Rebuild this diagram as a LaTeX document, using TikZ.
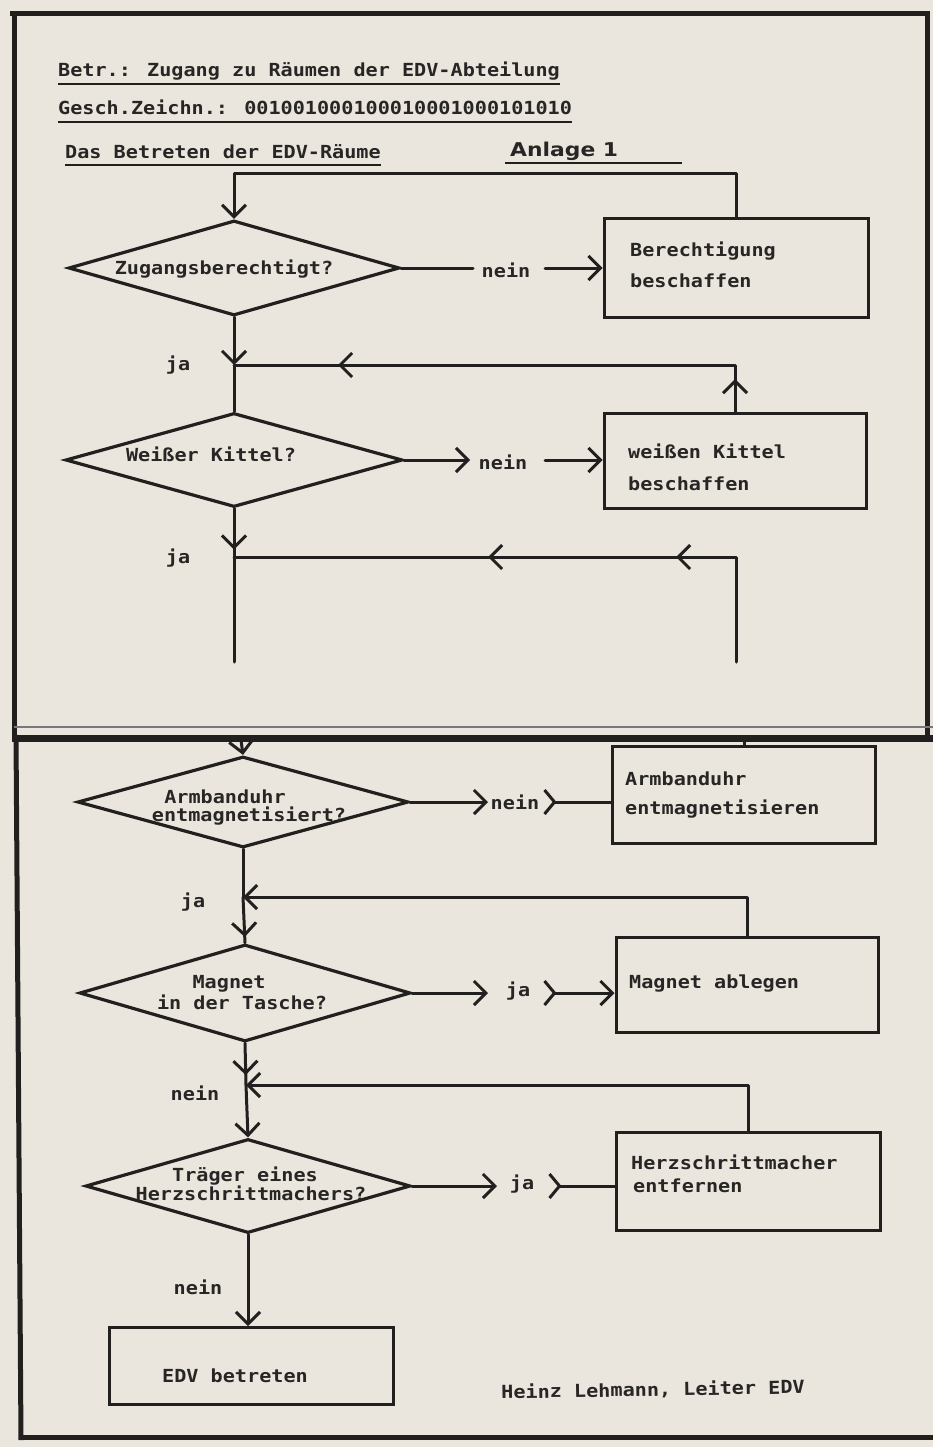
\documentclass[tikz,border=0pt]{standalone}
\usepackage{fontspec}
\newfontfamily\dmfont{DejaVu Sans Mono}[FakeStretch=1.12]
\newfontfamily\handfont{DejaVu Sans}[FakeStretch=1.15]
\usetikzlibrary{arrows.meta,shapes.geometric,decorations.markings}
\definecolor{paper}{RGB}{234,230,222}
\definecolor{ink}{RGB}{34,32,31}
\definecolor{txtc}{RGB}{40,38,37}
\tikzset{revb/.tip={Straight Barb[reversed,length=10pt,width=24pt]}}
\begin{document}
\begin{tikzpicture}[x=1pt,y=-1pt,
  >={Straight Barb[length=12pt,width=24pt]},
  txt/.style={font=\dmfont\bfseries\fontsize{18}{22}\selectfont, text=txtc, inner sep=0pt},
  lbl/.style={txt, anchor=center},
  ln/.style={draw=ink, line width=3pt, line cap=round, line join=round},
  ul/.style={draw=ink, line width=2.4pt},
  frame/.style={draw=ink, line width=5pt},
  dia/.style={diamond, draw=ink, line width=3.2pt, inner sep=0pt, line join=miter},
  box/.style={rectangle, draw=ink, line width=3pt, inner sep=0pt},
  mk/.style={postaction={decorate,decoration={markings,mark=at position #1 with {\arrow{>}}}}},
]
\fill[paper] (0,0) rectangle (933,1447);
\useasboundingbox (0,0) rectangle (933,1447);

% ---------- frames ----------
\draw[frame] (10,14) -- (929.5,14);
\draw[frame] (14,11.5) -- (14,740);
\draw[frame] (927,11.5) -- (927,738);
\draw[draw=ink!60, line width=1.2pt] (14,727) -- (933,727);
\draw[draw=ink, line width=7pt] (12,738) -- (933,738);
\draw[frame] (16,735) -- (21,1440);
\draw[frame] (18.5,1437) -- (933,1437);

% ---------- headings ----------
\node[txt, anchor=base west] (T1) at (58,77) {Betr.: Zugang zu Räumen der EDV-Abteilung};
\draw[ul] ([yshift=-7pt]T1.base west) -- ([yshift=-7pt]T1.base east);
\node[txt, anchor=base west] (T2) at (58,115) {Gesch.Zeichn.: 001001000100010001000101010};
\draw[ul] ([yshift=-7pt]T2.base west) -- ([yshift=-7pt]T2.base east);
\node[txt, anchor=base west] (T3) at (65,159) {Das Betreten der EDV-Räume};
\draw[ul] ([yshift=-6pt]T3.base west) -- ([yshift=-6pt]T3.base east);
\node[anchor=base west, inner sep=0pt, text=txtc, font=\handfont\bfseries\fontsize{19}{22}\selectfont] (ANL) at (510,157) {Anlage 1};
\draw[ul] ([xshift=-5pt,yshift=-6pt]ANL.base west) -- ++(177,0);

% ---------- upper part ----------
\node[dia, minimum width=331pt, minimum height=95pt] (D1) at (234,268) {};
\node[txt, anchor=base] (D1t) at (224,274.5) {Zugangsberechtigt?};
\node[box, minimum width=264pt, minimum height=98pt] (B1) at (736,268) {};
\node[txt, anchor=base west] (B1a) at (630,256) {Berechtigung};
\node[txt, anchor=base west] (B1b) at (630,287) {beschaffen};

\node[dia, minimum width=337pt, minimum height=94pt] (D2) at (234,460) {};
\node[txt, anchor=base] (D2t) at (211,461.5) {Weißer Kittel?};
\node[box, minimum width=262pt, minimum height=95pt] (B2) at (735,461) {};
\node[txt, anchor=base west] (B2a) at (628,458) {weißen Kittel};
\node[txt, anchor=base west] (B2b) at (628,490) {beschaffen};

\coordinate (C1) at (234,174);
\coordinate (J1) at (234,365);
\coordinate (J2) at (234,557);
\coordinate (E1) at (234,662);
\coordinate (E2) at (736,662);
\coordinate (a1) at (473,268);
\coordinate (b1) at (545,268);
\coordinate (a2) at (470,460);
\coordinate (b2) at (545,460);

\node[lbl] (N1) at (506,270) {nein};
\node[lbl] (N2) at (503,462) {nein};
\node[lbl] (Y1) at (178,365) {ja};
\node[lbl] (Y2) at (178,558) {ja};

\draw[ln,->] (B1.north) |- (C1) -- (D1.north);
\draw[ln] (D1.east) -- (a1);
\draw[ln,->] (b1) -- (B1.west |- b1);
\draw[ln,->] (D1.south) -- (J1);
\draw[ln] (J1) -- (D2.north);
\draw[ln, mk=33pt, mk=444pt] (B2.north) |- (J1);
\draw[ln,->] (D2.east) -- (a2);
\draw[ln,->] (b2) -- (B2.west |- b2);
\draw[ln, mk=41pt] (D2.south) -- (E1);
\draw[ln, mk=165pt, mk=353pt] (E2) |- (J2);

% ---------- lower part ----------
\coordinate (S1) at (241,740);
\coordinate (S2) at (744,740);
\node[dia, minimum width=331pt, minimum height=91pt] (D3) at (243,802) {};
\node[txt, anchor=base] (D3a) at (225,803.5) {Armbanduhr};
\node[txt, anchor=base] (D3b) at (249,821) {entmagnetisiert?};
\node[box, minimum width=263pt, minimum height=97pt] (B3) at (744,795) {};
\node[txt, anchor=base west] (B3a) at (625,785.5) {Armbanduhr};
\node[txt, anchor=base west] (B3b) at (625,814) {entmagnetisieren};

\node[dia, minimum width=331pt, minimum height=97pt] (D4) at (245,993) {};
\node[txt, anchor=base] (D4a) at (229,988.5) {Magnet};
\node[txt, anchor=base] (D4b) at (242,1009.5) {in der Tasche?};
\node[box, minimum width=262pt, minimum height=95pt] (B4) at (747,985) {};
\node[txt, anchor=base west] (B4a) at (629,988.5) {Magnet ablegen};

\node[dia, minimum width=325pt, minimum height=94pt] (D5) at (248,1186) {};
\node[txt, anchor=base] (D5a) at (245,1181) {Träger eines};
\node[txt, anchor=base] (D5b) at (251,1200) {Herzschrittmachers?};
\node[box, minimum width=264pt, minimum height=98pt] (B5) at (748,1181) {};
\node[txt, anchor=base west] (B5a) at (631,1169.5) {Herzschrittmacher};
\node[txt, anchor=base west] (B5b) at (633,1192) {entfernen};

\node[box, minimum width=284pt, minimum height=77pt] (B6) at (251,1366) {};
\node[txt, anchor=base] (B6t) at (235,1382.5) {EDV betreten};

\node[txt, anchor=center, rotate=1] (SIG) at (653,1390) {Heinz Lehmann, Leiter EDV};

\coordinate (J3) at (243,897);
\coordinate (J4) at (246,1085);
\coordinate (a3) at (488,802);
\coordinate (b3) at (543,802);
\coordinate (a4) at (488,993);
\coordinate (b4) at (543,993);
\coordinate (a5) at (497,1186);
\coordinate (b5) at (548,1186);

\node[lbl] (N3) at (515,802) {nein};
\node[lbl] (Y3) at (518,991) {ja};
\node[lbl] (Y5) at (522,1184) {ja};
\node[lbl] (Y4) at (193,902) {ja};
\node[lbl] (N4) at (195,1093) {nein};
\node[lbl] (N5) at (198,1287) {nein};

\draw[ln,->] (S1) -- (D3.north);
\draw[ln] (S2) -- (B3.north);
\draw[ln,->] (D3.east) -- (a3);
\draw[ln,revb-] (b3) -- (B3.west |- b3);
\draw[ln] (D3.south) -- (J3);
\draw[ln, mk=40pt] (J3) -- (D4.north);
\draw[ln,->] (B4.north) |- (J3);
\draw[ln,->] (D4.east) -- (a4);
\draw[ln,revb->] (b4) -- (B4.west |- b4);
\draw[ln, mk=32pt] (D4.south) -- (J4);
\draw[ln,->] (J4) -- (D5.north);
\draw[ln,->] (B5.north) |- (J4);
\draw[ln,->] (D5.east) -- (a5);
\draw[ln,revb-] (b5) -- (B5.west |- b5);
\draw[ln,->] (D5.south) -- (D5.south |- B6.north);
\end{tikzpicture}
\end{document}
